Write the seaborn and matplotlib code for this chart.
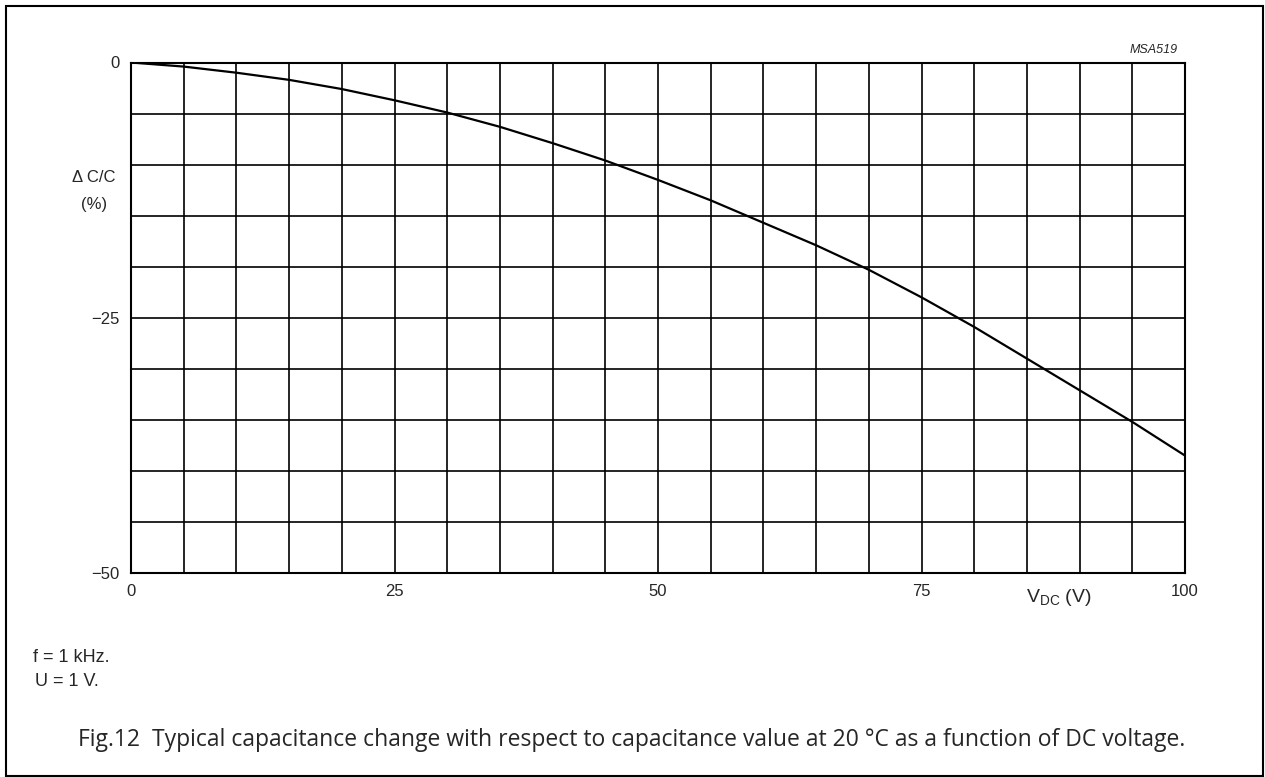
import matplotlib
matplotlib.use("Agg")
import matplotlib.pyplot as plt
import matplotlib.patches as mpatches
import numpy as np
import pandas as pd
import seaborn as sns

# DC voltage (V) and capacitance change (%)
voltage = [0, 5, 10, 15, 20, 25, 30, 35, 40, 45, 50,
           55, 60, 65, 70, 75, 80, 85, 90, 95, 100]
delta_c = [0.0, -0.4, -1.0, -1.7, -2.6, -3.7, -4.9, -6.3, -7.9, -9.6, -11.5,
           -13.5, -15.7, -17.9, -20.3, -23.0, -25.9, -29.0, -32.1, -35.2, -38.5]

x_ticks = [0, 25, 50, 75, 100]
y_ticks = [0, -25, -50]
y_tick_labels = ["0", "\u221225", "\u221250"]

notes = ["f = 1 kHz.", "U = 1 V."]
caption = ("Fig.12  Typical capacitance change with respect to capacitance value "
           "at 20 \u00b0C as a function of DC voltage.")

sns.set_style("white")
plt.rcParams["font.family"] = ["Liberation Sans", "DejaVu Sans"]
plt.rcParams["mathtext.fontset"] = "custom"
plt.rcParams["mathtext.rm"] = "Liberation Sans"

df = pd.DataFrame({"V": voltage, "dC": delta_c})

fig = plt.figure(figsize=(12.65, 7.77), dpi=100)
ax = fig.add_axes([131 / 1265, 1 - 573 / 777, 1054 / 1265, 510.5 / 777])

sns.lineplot(data=df, x="V", y="dC", ax=ax, color="black", linewidth=1.6)

ax.set_xlim(0, 100)
ax.set_ylim(-50, 0)
ax.set_xticks(np.arange(0, 101, 5), minor=True)
ax.set_yticks(np.arange(-50, 1, 5), minor=True)
ax.set_xticks(x_ticks)
ax.set_xticklabels([str(t) for t in x_ticks], fontsize=12)
ax.set_yticks(y_ticks)
ax.set_yticklabels(y_tick_labels, fontsize=12)
ax.grid(True, which="both", color="black", linewidth=1.2)
ax.set_axisbelow(True)
ax.tick_params(which="both", length=0)
ax.tick_params(axis="y", pad=8)
ax.tick_params(axis="x", pad=8)
for s in ax.spines.values():
    s.set_color("black")
    s.set_linewidth(1.5)
ax.set_xlabel("")
ax.set_ylabel("")

fig.text(94 / 1265, 1 - 178 / 777, "\u0394 C/C", ha="center", va="center", fontsize=12)
fig.text(94 / 1265, 1 - 205 / 777, "(%)", ha="center", va="center", fontsize=12)
fig.text(1059 / 1265, 1 - 597 / 777, r"V$_{\mathrm{DC}}$ (V)", ha="center",
         va="center", fontsize=14)
fig.text(1178 / 1265, 1 - 50 / 777, "MSA519", ha="right", va="center",
         fontsize=9, style="italic")

fig.text(33 / 1265, 1 - 657 / 777, notes[0], ha="left", va="center", fontsize=13)
fig.text(35 / 1265, 1 - 682 / 777, notes[1], ha="left", va="center", fontsize=13)
fig.text(1185 / 1265, 1 - 740 / 777, caption, ha="right", va="center",
         fontsize=16.5, family=["Open Sans", "DejaVu Sans"])

frame = mpatches.Rectangle((6 / 1265, 1 - 776 / 777), 1257 / 1265, 770 / 777,
                           transform=fig.transFigure, fill=False,
                           edgecolor="black", linewidth=1.5)
fig.patches.append(frame)

fig.savefig("out.png", dpi=100)
plt.close(fig)
